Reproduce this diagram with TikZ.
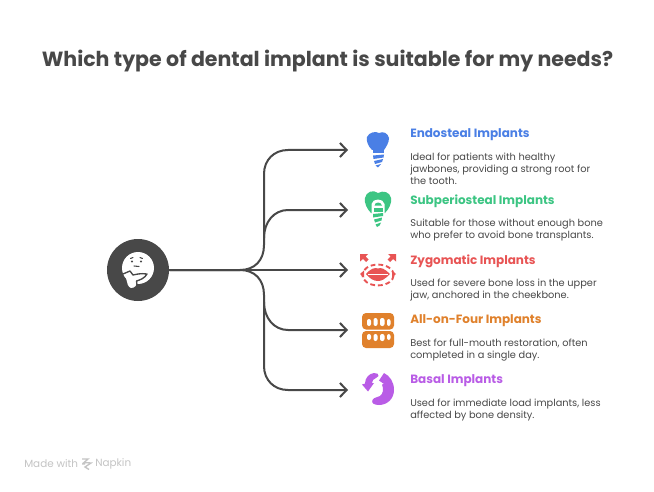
\documentclass[tikz,border=0pt]{standalone}
\usepackage{fontspec}
\setmainfont{Poppins}
\usetikzlibrary{arrows.meta}
\definecolor{ink}{HTML}{484848}
\definecolor{cblue}{HTML}{4A7FE5}
\definecolor{cgreen}{HTML}{3CC583}
\definecolor{cred}{HTML}{E85454}
\definecolor{corange}{HTML}{E0812C}
\definecolor{cpurple}{HTML}{B95CE6}
\definecolor{cgrey}{HTML}{C4C4C4}
\tikzset{
 x=0.75pt,y=-0.75pt,
 conn/.style={draw=ink,line width=1.5pt,-{Straight Barb[length=5pt,width=10.5pt,line width=1.5pt]}},
 ttl/.style={anchor=west,inner sep=0pt,font=\fontsize{9}{11}\selectfont\bfseries},
 dsc/.style={anchor=north west,inner sep=0pt,align=left,text=ink,font=\fontsize{7.35}{9}\selectfont},
 hub/.style={circle,fill=ink,minimum size=46.5pt,inner sep=0pt},
}
\begin{document}
\begin{tikzpicture}
\useasboundingbox (0,0) rectangle (654,492);
\fill[white] (0,0) rectangle (654,492);
\node[anchor=center,inner sep=0pt,text=ink,font=\fontsize{15.4}{18}\selectfont\bfseries] (title) at (327.5,61) {Which type of dental implant is suitable for my needs?};
% hub
\node[hub] (h) at (138,270) {};
\fill[white] (138,268) circle (12pt);
\fill[white] (125,273) -- (130,271) -- (146,274) -- (141,279) -- (136.5,282) .. controls (137,285) and (135,288) .. (131,288) .. controls (128,287) and (127,283) .. (126.5,280) -- cycle;
\draw[ink,line width=1pt,line cap=round,line join=round] (123,274) -- (130,271) -- (133,275) .. controls (136,274.5) and (140,273) .. (147,274) .. controls (145,278) and (140,280) .. (136.5,281) -- (137,285);
\fill[ink] (132,261.5) circle (1.2);
\fill[ink] (141,261.5) circle (1.2);
\draw[ink,line width=0.8pt,line cap=round] (130.5,258.5)--(133,257.5) (140,257.5)--(142.5,258.5);
\draw[ink,line width=0.8pt,line cap=round] (134,266)--(139,266.5);
% ends
\coordinate (e1) at (348,150);
\coordinate (e2) at (348,210);
\coordinate (e3) at (348,270);
\coordinate (e4) at (348,330);
\coordinate (e5) at (348,390);
% connectors
\draw[conn] (h.east) -- (e3);
\draw[conn] (h.east) -- (240,270) .. controls (255,270) and (264,260) .. (264,245) -- (264,174) .. controls (264,160) and (274,150) .. (288,150) -- (e1);
\draw[conn] (264,238) .. controls (264,222) and (274,210) .. (288,210) -- (e2);
\draw[conn] (h.east) -- (240,270) .. controls (255,270) and (264,280) .. (264,295) -- (264,366) .. controls (264,380) and (274,390) .. (288,390) -- (e5);
\draw[conn] (264,302) .. controls (264,318) and (274,330) .. (288,330) -- (e4);
% icon 1
\begin{scope}[cblue]
\fill (372,150) .. controls (368,146) and (366,141) .. (367,137) .. controls (369,132) and (376,131) .. (379,133) .. controls (383,131) and (388,133) .. (389,138) .. controls (389,143) and (386,147) .. (384,150) -- cycle;
\fill (372.5,150.5) -- (384,150.5) -- (384,153.5) -- (372.5,153.5) -- cycle;
\fill (373,155.5) -- (384,154.5) -- (383.5,157.5) -- (373.5,159) -- cycle;
\fill (374,161) -- (383,159) -- (382,162) -- (375,164) -- cycle;
\fill (375.5,165.5) -- (381,164) -- (378,167.5) -- cycle;
\end{scope}
% icon 2
\begin{scope}[cgreen]
\fill (371,213) .. controls (367,209) and (364,203) .. (365,198) .. controls (366,192) and (373,189) .. (378,193) .. controls (383,190) and (390,192) .. (391,198) .. controls (392,203) and (389,209) .. (385,213) -- cycle;
\fill[white] (371.5,214) -- (371.5,204) .. controls (372.5,198) and (383.5,198) .. (384.5,204) -- (384.5,214) -- cycle;
\fill (374.5,205.5) .. controls (375,201.5) and (381,201.5) .. (382,205.5) -- cycle;
\fill (374,207.5) rectangle (383,211.5);
\fill (373,214) -- (383,213) -- (383,216) -- (373,217.5) -- cycle;
\fill (374,219.5) -- (382,217.5) -- (381.5,220.5) -- (375,222.5) -- cycle;
\fill (375.5,224.5) -- (381,222.5) -- (379.5,225.5) -- (377,227) -- cycle;
\end{scope}
% icon 3
\begin{scope}[cred]
\fill (360,254) -- (368,254) -- (365.5,256.5) -- (368.5,259.5) -- (366,262) -- (363,259) -- (360,261.5) -- cycle;
\fill (396,254) -- (388,254) -- (390.5,256.5) -- (387.5,259.5) -- (390,262) -- (393,259) -- (396,261.5) -- cycle;
\draw[line width=1.4pt,dash pattern=on 3.6pt off 2.2pt] (378,275) ellipse (11.8pt and 7.8pt);
\fill (366,274) .. controls (370,269) and (375,267) .. (378,268.5) .. controls (381,267) and (385,269) .. (390,274) .. controls (385,279) and (382,281) .. (378,281) .. controls (374,281) and (370,279) .. (366,274) -- cycle;
\draw[white,line width=0.7pt] (368,274) -- (388,274);
\fill (360,274) -- (364,270.5) -- (364,277.5) -- cycle;
\fill (396,274) -- (392,270.5) -- (392,277.5) -- cycle;
\end{scope}
% icon 4
\begin{scope}[corange]
\fill[rounded corners=3pt] (362,313) rectangle (394,329.5);
\fill[rounded corners=3pt] (362,331) rectangle (394,348);
\fill[white,rounded corners=1.5pt]
 (367,319) rectangle (371,326)
 (373.5,318) rectangle (377.5,326)
 (380,318) rectangle (384.5,326)
 (387,319) rectangle (390.5,326)
 (367,334) rectangle (371,340)
 (373.5,334) rectangle (377.5,341)
 (380,334) rectangle (384.5,341)
 (387,334) rectangle (390.5,340);
\end{scope}
% icon 5
\begin{scope}[cpurple]
\fill (379,380.5) -- (384,373) .. controls (390,376) and (394,382) .. (394,390) .. controls (394,399) and (387,405) .. (379,405) .. controls (374,405) and (371,403) .. (372.5,400) .. controls (374,397) and (378,397.5) .. (380,396) .. controls (383,394) and (384,389) .. (382,384.5) -- (384,384) -- cycle;
\fill (362,384.5) -- (365,383.5) .. controls (365,378) and (369,373.5) .. (374,373) .. controls (377,373) and (379,374) .. (378.5,376) .. controls (377,378) and (375,378) .. (373,380) .. controls (372,381) and (372,382) .. (372,383) -- (374,383) -- (368,391.5) -- cycle;
\end{scope}
% text
\node[ttl,text=cblue] (t1) at (410,135) {Endosteal Implants};
\node[dsc] (d1) at (410,152.5) {Ideal for patients with healthy\\jawbones, providing a strong root for\\the tooth.};
\node[ttl,text=cgreen] (t2) at (410,201) {Subperiosteal Implants};
\node[dsc] (d2) at (410,218.5) {Suitable for those without enough bone\\who prefer to avoid bone transplants.};
\node[ttl,text=cred] (t3) at (410,261) {Zygomatic Implants};
\node[dsc] (d3) at (410,278.5) {Used for severe bone loss in the upper\\jaw, anchored in the cheekbone.};
\node[ttl,text=corange] (t4) at (410,321) {All-on-Four Implants};
\node[dsc] (d4) at (410,338.5) {Best for full-mouth restoration, often\\completed in a single day.};
\node[ttl,text=cpurple] (t5) at (410,381) {Basal Implants};
\node[dsc] (d5) at (410,398.5) {Used for immediate load implants, less\\affected by bone density.};
% footer
\node[anchor=west,inner sep=0pt,text=cgrey,font=\fontsize{7.8}{10}\selectfont] (m1) at (24,464) {Made with};
\draw[cgrey,line width=1pt] (82,459)--(88,459)--(84,462.5)--(91,463)--(85,467)--(89,469.5)(82,464)--(85,464);
\node[anchor=west,inner sep=0pt,text=cgrey,font=\fontsize{7.8}{10}\selectfont] (m2) at (95,464) {Napkin};
\end{tikzpicture}
\end{document}
